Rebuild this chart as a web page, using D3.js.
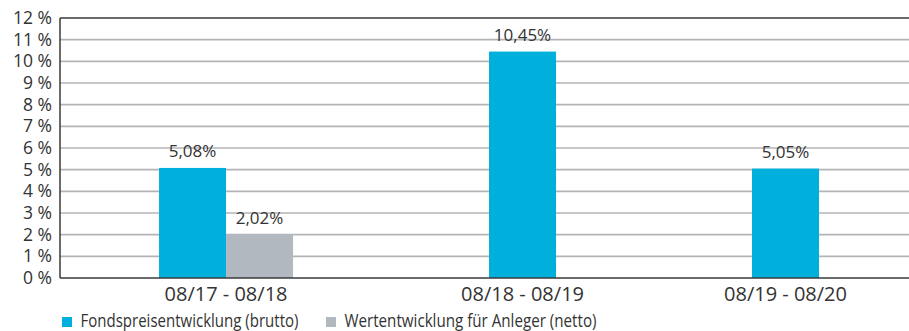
<!DOCTYPE html>
<html>
<head>
<meta charset="utf-8">
<script src="https://cdn.jsdelivr.net/npm/d3@7"></script>
<style>
  html, body { margin: 0; padding: 0; background: #fff; }
  svg { display: block; }
  text { font-family: "Open Sans", "Noto Sans", sans-serif; fill: #333; }
</style>
</head>
<body>
<svg id="chart" width="909" height="331"></svg>
<script>
// ---- data ----
const categories = ["08/17 - 08/18", "08/18 - 08/19", "08/19 - 08/20"];
const seriesNames = ["Fondspreisentwicklung (brutto)", "Wertentwicklung für Anleger (netto)"];
const brutto = [5.08, 10.45, 5.05];
const netto = [2.02, null, null];
const valueLabels = [["5,08%", "10,45%", "5,05%"], ["2,02%", null, null]];
const yTicks = [0, 1, 2, 3, 4, 5, 6, 7, 8, 9, 10, 11, 12];
const yTickLabels = ["0 %", "1 %", "2 %", "3 %", "4 %", "5 %", "6 %", "7 %", "8 %", "9 %", "10 %", "11 %", "12 %"];
const colors = ["#00b0dc", "#b1b8bf"];

// ---- layout ----
const svg = d3.select("#chart");
const pLeft = 60, pRight = 909, pTop = 18, pBottom = 278;

const y = d3.scaleLinear().domain([0, 12]).range([pBottom, pTop]);

// groups: bars present per category; x in "bar units"
const seriesVals = [brutto, netto];
const groups = categories.map((c, i) => ({
  cat: i,
  bars: seriesVals.map((s, k) => ({ k, v: s[i], label: valueLabels[k][i] })).filter(b => b.v != null)
}));
const outerL = 1.478, gap = 2.925, outerR = 1.343;
let pos = outerL;
groups.forEach(g => { g.start = pos; pos += g.bars.length; g.end = pos; pos += gap; });
const totalUnits = pos - gap + outerR;
const x = d3.scaleLinear().domain([0, totalUnits]).range([pLeft, pRight]);

// gridlines
svg.append("g").selectAll("line").data(yTicks.filter(t => t > 0 && t < 12)).join("line")
  .attr("x1", pLeft).attr("x2", pRight)
  .attr("y1", d => y(d)).attr("y2", d => y(d))
  .attr("stroke", "#b4b4b8").attr("stroke-width", 1.6);

// bars
groups.forEach(g => {
  const gg = svg.append("g");
  gg.selectAll("rect").data(g.bars).join("rect")
    .attr("x", (d, j) => x(g.start + j))
    .attr("width", (d, j) => x(g.start + j + 1) - x(g.start + j))
    .attr("y", d => y(d.v))
    .attr("height", d => y(0) - y(d.v))
    .attr("fill", d => colors[d.k]);
  gg.selectAll("text").data(g.bars).join("text")
    .attr("x", (d, j) => x(g.start + j + 0.5))
    .attr("y", d => y(d.v) - 10.5)
    .attr("text-anchor", "middle")
    .attr("font-size", 17)
    .text(d => d.label);
  svg.append("text")
    .attr("x", x((g.start + g.end) / 2))
    .attr("y", 301)
    .attr("text-anchor", "middle")
    .attr("font-size", 20)
    .text(categories[g.cat]);
});

// frame lines
svg.append("line").attr("x1", pLeft).attr("x2", pRight).attr("y1", pTop).attr("y2", pTop)
  .attr("stroke", "#3a3a3a").attr("stroke-width", 1.5);
svg.append("line").attr("x1", pLeft).attr("x2", pRight).attr("y1", pBottom).attr("y2", pBottom)
  .attr("stroke", "#3a3a3a").attr("stroke-width", 1.5);
svg.append("line").attr("x1", pLeft).attr("x2", pLeft).attr("y1", pTop).attr("y2", pBottom)
  .attr("stroke", "#3a3a3a").attr("stroke-width", 1.5);

// y axis labels
const yAxis = d3.axisLeft(y).tickValues(yTicks).tickSize(0).tickPadding(8)
  .tickFormat((d, i) => yTickLabels[i]);
const ya = svg.append("g").attr("transform", `translate(${pLeft},0)`).call(yAxis);
ya.select(".domain").remove();
ya.selectAll("text").attr("font-size", 17.5).attr("font-family", null).style("fill", "#333");

// legend
const legend = svg.append("g");
const legX = [62, 326];
const legW = [218, 252];
seriesNames.forEach((n, i) => {
  legend.append("rect").attr("x", legX[i]).attr("y", 317).attr("width", 10).attr("height", 10).attr("fill", colors[i]);
  legend.append("text").attr("x", legX[i] + 18.5).attr("y", 327).attr("font-size", 17.5)
    .attr("textLength", legW[i]).attr("lengthAdjust", "spacingAndGlyphs").text(n);
});
</script>
</body>
</html>
